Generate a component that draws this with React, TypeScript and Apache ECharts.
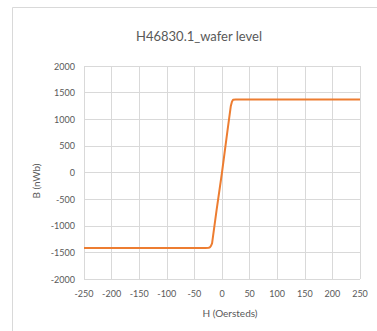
import React, { useEffect, useRef } from "react";
import * as echarts from "echarts";

const TITLE = "H46830.1_wafer level";
const X_NAME = "H (Oersteds)";
const Y_NAME = "B (nWb)";

const hValues = [-250, -200, -150, -100, -50, -30, -24, -22, -20, -18, -10, 0, 10, 16, 18, 20, 25, 50, 100, 150, 200, 250];
const bValues = [-1420, -1420, -1420, -1420, -1418, -1416, -1412, -1405, -1380, -1330, -720, 0, 790, 1250, 1330, 1365, 1370, 1370, 1372, 1372, 1372, 1372];

const FONT = "Lato, 'Open Sans', sans-serif";

export default function App() {
  const ref = useRef<HTMLDivElement>(null);
  useEffect(() => {
    if (!ref.current) return;
    const chart = echarts.init(ref.current, null, { renderer: "svg" });
    const data = hValues.map((h, i) => [h, bValues[i]]);
    chart.setOption({
      animation: false,
      backgroundColor: "#ffffff",
      title: {
        text: TITLE,
        left: 194,
        top: 24,
        textAlign: "center",
        textStyle: { fontFamily: FONT, fontSize: 13, fontWeight: "normal", color: "#595959" },
      },
      graphic: [
        {
          type: "rect",
          shape: { x: 12.5, y: 7.5, width: 400, height: 400 },
          style: { fill: "none", stroke: "#D9D9D9", lineWidth: 1 },
          silent: true,
        },
        {
          type: "text",
          x: 36,
          y: 181,
          rotation: Math.PI / 2,
          style: {
            text: Y_NAME,
            fontFamily: FONT,
            fontSize: 10,
            fill: "#595959",
            align: "center",
            verticalAlign: "middle",
          },
        },
        {
          type: "text",
          x: 230,
          y: 313,
          style: {
            text: X_NAME,
            fontFamily: FONT,
            fontSize: 10,
            fill: "#595959",
            align: "center",
            verticalAlign: "middle",
          },
        },
      ],
      grid: { left: 84, right: 17, top: 66, bottom: 52, containLabel: false },
      xAxis: {
        type: "value",
        min: -250,
        max: 250,
        interval: 50,
        axisLine: { show: false },
        axisTick: { show: false },
        axisLabel: { fontFamily: FONT, fontSize: 9, color: "#595959", margin: 10, formatter: (v: number) => String(v) },
        splitLine: { show: true, lineStyle: { color: "#D9D9D9", width: 1 } },
      },
      yAxis: {
        type: "value",
        min: -2000,
        max: 2000,
        interval: 500,
        axisLine: { show: false },
        axisTick: { show: false },
        axisLabel: { fontFamily: FONT, fontSize: 9, color: "#595959", margin: 9, formatter: (v: number) => String(v) },
        splitLine: { show: true, lineStyle: { color: "#D9D9D9", width: 1 } },
      },
      series: [
        {
          type: "line",
          data,
          showSymbol: false,
          symbol: "none",
          lineStyle: { color: "#ED7D31", width: 2 },
          itemStyle: { color: "#ED7D31" },
        },
      ],
    });
    return () => chart.dispose();
  }, []);
  return (
    <div
      ref={ref}
      style={{ position: "absolute", left: 0, top: 0, width: 377, height: 331 }}
    />
  );
}
